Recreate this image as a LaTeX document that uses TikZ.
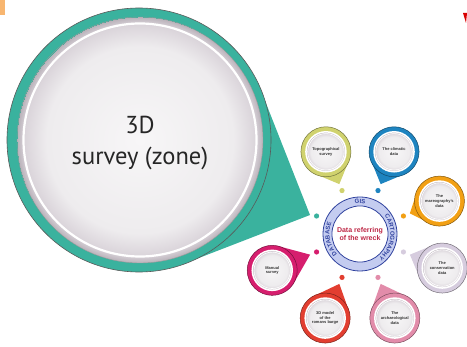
\documentclass[tikz,border=0pt]{standalone}
\usepackage{fontspec}
\setmainfont{Liberation Sans}
\newfontfamily\zonefont{PT Sans}
\usepackage{xcolor}
\usetikzlibrary{decorations.text}

\definecolor{teal1}{RGB}{58,178,158}
\definecolor{topo}{RGB}{208,210,110}
\definecolor{clim}{RGB}{30,132,192}
\definecolor{meteo}{RGB}{242,160,20}
\definecolor{cons}{RGB}{214,204,222}
\definecolor{arch}{RGB}{226,140,170}
\definecolor{model}{RGB}{226,62,48}
\definecolor{manual}{RGB}{214,30,110}
\definecolor{ringfill}{RGB}{196,204,240}
\definecolor{ringdark}{RGB}{48,66,158}
\definecolor{hubred}{RGB}{190,40,70}
\definecolor{tab}{RGB}{248,182,112}
\definecolor{discA}{RGB}{247,246,247}
\definecolor{discB}{RGB}{238,236,238}
\definecolor{discC}{RGB}{218,212,218}
\definecolor{discD}{RGB}{186,178,186}
\pgfdeclareradialshading{disc}{\pgfpointorigin}{color(0bp)=(discA); color(19bp)=(discB); color(23.5bp)=(discC); color(25bp)=(discD)}

\newcommand{\bigfont}{\zonefont\fontsize{24.5}{31}\selectfont}
\newcommand{\satfont}{\bfseries\fontsize{4}{4.7}\selectfont}
\newcommand{\hubfont}{\bfseries\fontsize{7}{8.2}\selectfont}
\newcommand{\ringfont}{\bfseries\fontsize{6}{6}\selectfont}

\tikzset{
  sat/.style={circle, minimum size=40, inner sep=0pt, shading=disc,
    draw=white, line width=1.5, font=\satfont, text=black!80, align=center},
  ringtext/.style={decorate, decoration={text along path, text={|\ringfont|#1},
    text align=center, text color=ringdark}}
}

\begin{document}
\begin{tikzpicture}[x=1pt, y=1pt]
\useasboundingbox (0,0) rectangle (467,-347);
% corner marks
\fill[tab] (0,0) rectangle (5,-15);
\fill[red!85!black] (463,-13) -- (467,-13) -- (466,-23) -- cycle;

% big callout
\coordinate (big) at (139,-140);
\coordinate (tip) at (310,-215);
\fill[teal1] ([shift={(25.8:132)}]big) -- (tip) -- ([shift={(-64.6:132)}]big) -- cycle;
\filldraw[fill=teal1, draw=black!65, line width=.6] (big) circle (132);
\shade[shading=disc, draw=black!40, line width=.4] ([shift={(1,0)}]big) circle (123);
\draw[white, line width=2.2] ([shift={(1,0)}]big) circle (116.5);
\node[font=\bigfont, text=black!85, align=center] (zone) at (140,-143) {3D\\survey (zone)};

% central ring
\node[circle, minimum size=74, fill=ringfill, draw=ringdark, line width=.8] (ring) at (360,-234) {};
\node[circle, minimum size=56, fill=white, draw=ringdark, line width=.8,
  font=\hubfont, text=hubred, align=center] (hub) at (ring.center) {Data referring\\of the wreck};
\path[ringtext=GIS] ([shift={(112:30.5)}]ring.center) arc[start angle=112, end angle=68, radius=30.5];
\path[ringtext=CARTOGRAPHY] ([shift={(42:30.5)}]ring.center) arc[start angle=42, end angle=-57, radius=30.5];
\path[ringtext=DATABASE] ([shift={(225:30.5)}]ring.center) arc[start angle=225, end angle=155, radius=30.5];

% dots
\foreach \ang/\col in {157.5/teal1, 112.5/topo, 67.5/clim, 22.5/meteo,
  -22.5/cons, -67.5/arch, -112.5/model, -157.5/manual}
  \fill[\col] ([shift={(\ang:47)}]ring.center) circle (2.6);

% satellites
\foreach \ang/\d/\n/\col/\txt in {
  112.5/89/topo/topo/{Topographical\\survey},
  67.5/89/clim/clim/{The climatic\\data},
  22.5/86/meteo/meteo/{The\\mareography's\\data},
  -22.5/89/cons/cons/{The\\conservation\\data},
  -67.5/91/arch/arch/{The\\archaeological\\data},
  -112.5/91/model/model/{3D model\\of the\\romans barge},
  -157.5/95/manual/manual/{Manual\\survey}}
{
  \begin{scope}[shift={(ring.center)}, rotate=\ang]
    \fill[\col] (\d-14.3,20.5) -- (54,0) -- (\d-14.3,-20.5) -- cycle;
    \filldraw[fill=\col, draw=\col!55!black, line width=.5] (\d,0) circle (25);
    \node[sat] (\n) at (\d,0) {\txt};
    \draw[white, line width=.6] (\n.center) circle (18.2);
  \end{scope}
}
\end{tikzpicture}
\end{document}
